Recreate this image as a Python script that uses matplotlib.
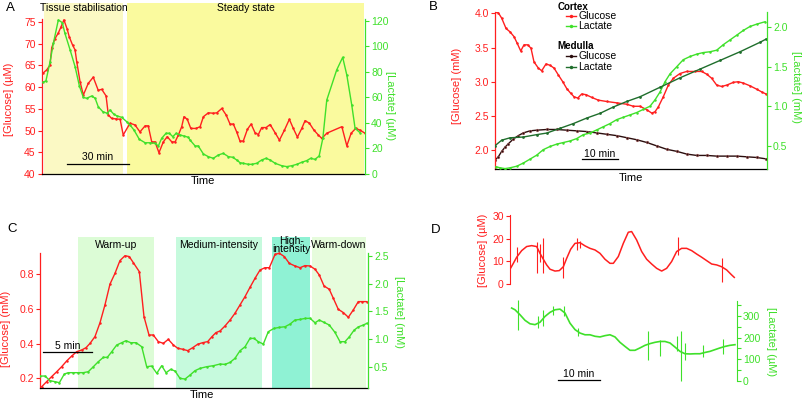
import matplotlib
matplotlib.use('Agg')
import matplotlib.pyplot as plt
from matplotlib.transforms import blended_transform_factory
from matplotlib.lines import Line2D
import matplotlib.ticker as mticker

plt.rcParams['font.family'] = ['Liberation Sans', 'DejaVu Sans']
plt.rcParams['font.size'] = 7

# ---------------- DATA ----------------
# Panel A (time in min)
a_glu_t = [0.6, 2.3, 3.9, 4.7, 6.3, 7.9, 9.2, 10.6, 12.1, 13.2, 14.8, 16.0, 16.8, 18.4, 20.0, 22.4, 24.8, 27.2,
           28.9, 31.0, 32.1, 33.7, 35.8, 37.8, 39.3, 42.6, 45.0, 47.4, 49.9, 51.4, 53.1, 54.7, 56.6, 58.7, 60.6,
           62.8, 64.4, 66.0, 67.6, 68.7, 70.3, 72.0, 74.5, 76.5, 78.1, 80.5, 82.9, 84.6, 87.0, 89.1, 91.0, 92.6,
           94.2, 95.8, 97.4, 99.4, 101.2, 103.1, 104.7, 106.3, 108.4, 110.4, 112.8, 114.9, 117.3, 119.7, 121.6,
           123.6, 125.7, 127.3, 129.4, 131.6, 133.7, 135.4, 137.8, 145.1, 147.5, 149.6, 151.8, 153.9, 156.3]
a_glu = [63.3, 64.0, 65.1, 69.1, 71.2, 72.5, 73.9, 75.5, 73.5, 71.6, 69.7, 68.6, 65.9, 61.3, 58.2, 60.9, 62.3, 59.3,
         59.5, 58.0, 53.6, 52.8, 52.7, 52.6, 49.0, 51.7, 51.3, 49.7, 51.1, 51.1, 47.4, 47.4, 44.9, 47.4, 48.6,
         47.4, 47.4, 49.0, 50.9, 53.2, 52.6, 50.5, 50.5, 50.9, 53.2, 54.1, 54.0, 54.1, 55.1, 53.6, 51.5, 51.5,
         49.7, 47.6, 47.6, 50.3, 51.5, 49.5, 49.1, 50.7, 50.7, 51.4, 49.5, 47.8, 50.1, 52.6, 50.5,
         48.5, 50.5, 52.3, 51.7, 50.1, 49.0, 48.2, 49.4, 50.9, 46.5, 49.4, 50.5, 50.1, 49.4]
a_lac_t = [0.5, 1.9, 3.9, 5.5, 7.9, 9.8, 11.1, 13.6, 16.0, 18.1, 20.0, 21.6, 24.1, 25.7, 27.2, 29.4, 31.6, 32.9,
           34.8, 36.4, 38.6, 41.0, 42.6, 44.5, 47.1, 49.9, 52.3, 54.7, 56.3, 57.9, 60.0, 61.6, 63.3, 64.9, 66.8,
           68.7, 70.8, 71.6, 74.1, 75.6, 78.1, 80.5, 82.9, 85.3, 87.7, 90.2, 92.3, 94.2, 95.8, 97.4, 99.8, 101.5,
           103.9, 106.3, 108.4, 110.4, 112.8, 116.0, 118.4, 120.9, 123.3, 125.7, 128.1, 130.0, 132.1, 134.1,
           135.9, 137.8, 142.6, 145.5, 147.5, 149.9, 151.5, 153.9]
a_lac = [72, 73, 88, 102.5, 120.8, 118.7, 110.3, 97.3, 84.2, 69, 60.1, 59.4, 61.2, 59.4, 52.8, 48.9, 47.6, 50.2,
         46.8, 45.5, 44.4, 41, 38.4, 34.5, 27.2, 24.5, 24.5, 24.1, 22, 28, 31.9, 31.9, 29.3, 31.9, 30.6,
         29.8, 28.8, 26.7, 22, 22, 15.7, 13.6, 12.3, 14.9, 16.2, 13.6, 13.1, 11, 8.9, 8.4, 7.6, 7.6,
         8.4, 11, 12.3, 11, 8.4, 6.5, 5.8, 6.5, 7.6, 9.2, 10.5, 12.3, 11.5, 14.1,
         28, 58, 81.6, 91.5, 77.6, 54, 35.8, 32.4]
a_phases = ["Tissue stabilisation", "Steady state"]
a_phase_start = [1.0, 41.1]
a_phase_end = [39.2, 155.8]

# Panel B (time in min)
b_cg_t = [0, 0.92, 1.86, 3.06, 4.17, 5.28, 6.19, 7.14, 8.06, 9.08, 10.0, 10.83, 12.03, 12.97, 14.17, 15.28, 16.39,
          17.58, 18.81, 19.92, 21.03, 21.94, 22.97, 24.08, 25.28, 26.86, 28.69, 31.03, 33.81, 36.58, 38.42, 40.28,
          42.14, 43.53, 44.44, 45.36, 46.75, 48.14, 49.53, 51.39, 53.25, 55.56, 57.42, 58.81, 60.19, 61.58, 62.97,
          64.36, 66.19, 67.58, 68.97, 70.83, 72.69, 74.08, 75.28]
b_cg = [4.025, 4.01, 3.93, 3.78, 3.73, 3.66, 3.56, 3.45, 3.54, 3.54, 3.49, 3.29, 3.2, 3.16, 3.26, 3.24, 3.2, 3.1,
        3.0, 2.9, 2.83, 2.78, 2.76, 2.82, 2.81, 2.77, 2.73, 2.71, 2.69, 2.67, 2.64, 2.64, 2.59, 2.54, 2.56, 2.63,
        2.78, 2.95, 3.05, 3.12, 3.15, 3.15, 3.15, 3.11, 3.05, 2.95, 2.93, 2.95, 2.99, 3.0, 2.98, 2.94, 2.89, 2.85,
        2.82]
b_cl_t = [0.28, 1.39, 2.78, 4.17, 6.03, 7.86, 9.72, 11.58, 13.42, 15.28, 17.14, 18.97, 20.83, 22.69, 24.53, 26.39,
          28.25, 30.08, 31.94, 33.81, 35.64, 37.5, 39.36, 41.19, 43.06, 44.44, 45.83, 47.22, 48.61, 50.47, 52.31,
          54.17, 56.03, 57.86, 59.72, 61.58, 63.42, 65.28, 67.14, 68.97, 70.83, 72.69, 75.0]
b_cl = [0.234, 0.22, 0.21, 0.22, 0.24, 0.28, 0.33, 0.38, 0.45, 0.49, 0.52, 0.54, 0.56, 0.59, 0.64, 0.66, 0.70,
        0.74, 0.78, 0.83, 0.86, 0.89, 0.92, 0.96, 1.0, 1.08, 1.18, 1.31, 1.41, 1.5, 1.59, 1.63, 1.66, 1.68, 1.69,
        1.71, 1.78, 1.84, 1.9, 1.96, 2.01, 2.04, 2.07]
b_mg_t = [0, 0.92, 1.86, 2.78, 3.69, 5.08, 6.47, 7.86, 9.72, 11.58, 14.36, 17.14, 19.92, 22.69, 25.47, 28.25,
          31.03, 33.81, 36.58, 39.36, 42.14, 44.92, 47.69, 50.47, 53.25, 56.03, 58.81, 61.58, 64.36, 67.14, 69.92,
          72.69, 75.28]
b_mg = [1.85, 1.90, 1.98, 2.04, 2.09, 2.16, 2.21, 2.25, 2.28, 2.29, 2.3, 2.3, 2.29, 2.28, 2.27, 2.25, 2.23,
        2.21, 2.18, 2.15, 2.11, 2.06, 2.01, 1.98, 1.94, 1.92, 1.92, 1.91, 1.91, 1.91, 1.90, 1.89, 1.87]
b_ml_t = [0, 1.86, 4.17, 7.86, 11.58, 14.36, 18.06, 21.75, 25.47, 29.17, 32.86, 36.58, 40.28, 45.83, 51.39,
          56.94, 62.5, 68.06, 73.61, 75.28]
b_ml = [0.5, 0.57, 0.6, 0.61, 0.64, 0.66, 0.72, 0.78, 0.85, 0.91, 0.99, 1.06, 1.12, 1.24, 1.36, 1.47, 1.58,
        1.69, 1.81, 1.85]

# Panel C (time in min)
c_glu_t = [0.18, 0.69, 1.21, 1.73, 2.24, 2.76, 3.27, 3.79, 4.31, 4.75, 5.17, 5.68, 6.20, 6.71, 7.23, 7.75, 8.26,
           8.78, 9.22, 9.64, 10.26, 10.74, 11.26, 11.70, 12.22, 12.74, 13.25, 13.77, 14.22, 14.74, 15.26, 15.77,
           16.29, 16.81, 17.32, 17.77, 18.18, 18.59, 19.11, 19.63, 20.14, 20.66, 21.18, 21.69, 22.21, 22.73,
           23.24, 23.69, 24.28, 24.72, 25.24, 25.75, 26.34, 26.86, 27.37, 27.89, 28.41, 28.85, 29.34, 29.88,
           30.30, 30.81, 31.33, 31.85, 32.36, 32.88, 33.23, 33.75]
c_glu = [0.152, 0.181, 0.21, 0.238, 0.267, 0.3, 0.328, 0.353, 0.363, 0.376, 0.401, 0.44, 0.52, 0.622, 0.742,
         0.804, 0.877, 0.905, 0.9, 0.865, 0.813, 0.555, 0.449, 0.449, 0.411, 0.401, 0.424, 0.392, 0.373, 0.367,
         0.359, 0.376, 0.396, 0.405, 0.411, 0.44, 0.463, 0.472, 0.501, 0.535, 0.574, 0.622, 0.67, 0.723, 0.775,
         0.823, 0.836, 0.836, 0.913, 0.919, 0.9, 0.861, 0.846, 0.836, 0.848, 0.846, 0.827, 0.794, 0.731, 0.712,
         0.66, 0.597, 0.578, 0.551, 0.593, 0.641, 0.641, 0.641]
c_lac_t = [0, 0.52, 1.03, 1.55, 2.0, 2.51, 2.92, 3.44, 3.96, 4.47, 4.99, 5.51, 6.02, 6.54, 6.95, 7.41, 7.92,
           8.44, 8.88, 9.37, 9.92, 10.51, 11.02, 11.54, 12.06, 12.57, 13.02, 13.50, 13.95, 14.46, 14.98, 15.50,
           16.01, 16.53, 17.22, 17.90, 18.59, 19.11, 19.63, 20.14, 20.66, 21.18, 21.69, 22.11, 22.55, 23.07,
           23.58, 24.17, 24.72, 25.31, 25.83, 26.34, 26.86, 27.37, 27.89, 28.41, 28.85, 29.34, 29.88, 30.47,
           30.99, 31.50, 31.95, 32.44, 32.88, 33.40, 33.75]
c_lac = [0.331, 0.331, 0.247, 0.229, 0.211, 0.367, 0.392, 0.392, 0.392, 0.392, 0.41, 0.5, 0.59, 0.669, 0.669,
         0.771, 0.892, 0.934, 0.97, 0.934, 0.934, 0.861, 0.5, 0.512, 0.38, 0.518, 0.392, 0.452, 0.422, 0.289,
         0.277, 0.349, 0.428, 0.47, 0.5, 0.518, 0.548, 0.542, 0.578, 0.651, 0.789, 0.861, 1.012, 1.012, 0.952,
         0.91, 1.133, 1.193, 1.211, 1.223, 1.271, 1.344, 1.355, 1.373, 1.375, 1.295, 1.344, 1.301, 1.254, 1.12,
         0.952, 0.952, 1.04, 1.16, 1.22, 1.254, 1.283]
c_phases = ["Warm-up", "Medium-intensity", "High-\nintensity", "Warm-down"]
c_phase_start = [3.89, 14.02, 24.0, 28.07]
c_phase_end = [11.78, 22.90, 27.89, 33.65]
c_phase_colors = ['#dcfcd6', '#c6fadd', '#8ff2d4', '#e6fcdc']

# Panel D (time in min)
d_glu_t = [0, 0.79, 1.58, 2.76, 3.94, 5.12, 6.30, 7.09, 7.88, 8.67, 9.46, 10.64, 11.66, 12.61, 13.40, 14.34,
           15.37, 16.55, 17.73, 18.91, 20.09, 21.28, 22.46, 23.64, 24.43, 25.61, 26.79, 27.97, 28.76, 29.94,
           31.13, 32.31, 33.49, 34.67, 35.86, 37.04, 38.22, 39.40, 40.58, 41.77, 42.95, 44.13, 45.31, 46.49,
           47.68, 48.86, 50.04, 51.22, 52.40, 53.03]
d_glu = [6.5, 9.1, 11.8, 14.7, 16.5, 16.9, 16.5, 13.5, 10.9, 8.4, 6.5, 5.7, 5.9, 7.6, 11.3, 15.3, 17.9, 18.2,
         16.8, 15.7, 15.0, 13.5, 10.9, 9.1, 9.1, 12.1, 17.9, 22.8, 23.1, 19.4, 14.3, 10.9, 8.8, 6.9, 5.7, 6.9,
         9.9, 14.3, 15.7, 15.7, 14.7, 13.2, 11.8, 10.3, 8.8, 8.4, 7.6, 6.2, 4.0, 2.9]
d_glu_spike_t = [1.73, 6.30, 7.09, 7.72, 12.61, 15.76, 16.55, 39.79, 50.04]
d_glu_spike_lo = [9.9, 5.0, 9.9, 5.0, 2.5, 15.0, 16.0, 12.8, 1.0]
d_glu_spike_hi = [16.2, 18.7, 17.5, 20.1, 12.1, 20.1, 19.0, 20.6, 11.3]
d_lac_t = [0.39, 1.18, 2.36, 3.55, 4.73, 5.91, 7.09, 8.27, 9.46, 10.64, 11.82, 13.00, 14.18, 15.37, 16.55, 17.73,
           18.91, 20.09, 21.28, 22.46, 23.64, 24.82, 26.00, 27.19, 28.37, 29.55, 30.73, 31.91, 33.10, 34.28,
           35.46, 36.64, 37.83, 39.01, 40.19, 41.37, 42.55, 43.74, 44.92, 46.10, 47.28, 48.46, 49.65, 50.83,
           52.01, 53.19]
d_lac = [337, 329, 306, 280, 264, 260, 271, 298, 317, 329, 332, 314, 267, 237, 221, 213, 213, 206, 203, 209,
         213, 203, 178, 159, 141, 141, 152, 164, 172, 178, 182, 182, 175, 156, 136, 125, 124, 125, 125, 131,
         136, 144, 152, 159, 164, 167]
d_lac_spike_t = [1.97, 6.54, 7.88, 10.09, 12.84, 16.0, 32.70, 35.46, 39.40, 40.43, 41.37, 45.55, 50.28]
d_lac_spike_lo = [233, 244, 252, 306, 298, 206, 94, 113, 136, 0, 97, 108, 125]
d_lac_spike_hi = [376, 298, 329, 345, 345, 244, 229, 190, 206, 229, 175, 167, 193]

# ---------------- STYLE ----------------
RED = '#ff1f1f'
GREEN = '#3fe02a'
DKGREEN = '#1f6e2c'
DARK = '#2a0d0d'
W, H = 803, 400
fig = plt.figure(figsize=(W / 100, H / 100), dpi=100)


def rect(l, t, r, b):
    return [l / W, 1 - b / H, (r - l) / W, (b - t) / H]


def ftext(x, y, s, **kw):
    fig.text(x / W, 1 - y / H, s, **kw)


def style_pair(ax, ax2, lbounds, rbounds, bottom=True):
    for s in ['top', 'right']:
        ax.spines[s].set_visible(False)
    for s in ['top', 'left', 'bottom']:
        ax2.spines[s].set_visible(False)
    ax.spines['bottom'].set_visible(bottom)
    ax.spines['bottom'].set_color('black')
    ax.spines['left'].set_color(RED)
    ax2.spines['right'].set_color(GREEN)
    ax.spines['left'].set_bounds(*lbounds)
    ax2.spines['right'].set_bounds(*rbounds)
    for sp in [ax.spines['left'], ax2.spines['right'], ax.spines['bottom']]:
        sp.set_linewidth(0.9)
    ax.set_xticks([])
    ax2.set_xticks([])
    ax.tick_params(axis='y', colors=RED, direction='out', length=3, width=0.8, pad=1.5, labelsize=7.5)
    ax2.tick_params(axis='y', colors=GREEN, direction='out', length=3, width=0.8, pad=1.5, labelsize=7.5)
    ax.patch.set_visible(False)


def scalebar(ax, t0, t1, yfrac, label, tyfrac):
    tr = blended_transform_factory(ax.transData, ax.transAxes)
    ax.plot([t0, t1], [yfrac, yfrac], color='black', lw=0.9, transform=tr, clip_on=False)
    ax.text((t0 + t1) / 2, tyfrac, label, transform=tr, ha='center', va='center', fontsize=7.5)


mk = dict(marker='o', markersize=1.8, markeredgewidth=0)

# ---------------- PANEL A ----------------
axA = fig.add_axes(rect(42, 3, 365, 174))
axA2 = axA.twinx()
axA.set_xlim(0, 156.3)
axA.set_ylim(40, 79.4)
axA2.set_ylim(0, 134.1)
axA.set_zorder(1)
axA2.set_zorder(2)
trA = blended_transform_factory(axA.transData, axA.transAxes)
for s, e, c in zip(a_phase_start, a_phase_end, ['#fbf9c4', '#fafa9e']):
    axA.axvspan(s, e, color=c, lw=0, zorder=0)
for s, e, name in zip(a_phase_start, a_phase_end, a_phases):
    axA.text((s + e) / 2, 0.97, name, transform=trA, ha='center', va='center', fontsize=7.5)
axA2.plot(a_lac_t, a_lac, color=GREEN, lw=1.0, **mk)
axA.plot(a_glu_t, a_glu, color=RED, lw=1.0, **mk)
axA.set_yticks([40, 45, 50, 55, 60, 65, 70, 75])
axA2.set_yticks([0, 20, 40, 60, 80, 100, 120])
style_pair(axA, axA2, (40, 75.7), (0, 121.6))
scalebar(axA, 12.1, 42.1, 0.0585, '30 min', 0.1)
ftext(203, 181, 'Time', ha='center', va='center', fontsize=8)
ftext(9, 99, '[Glucose] (µM)', rotation=90, ha='center', va='center', color=RED, fontsize=8)
ftext(390, 106, '[Lactate] (µM)', rotation=270, ha='center', va='center', color=GREEN, fontsize=8)
ftext(10, 8, 'A', ha='center', va='center', fontsize=9.5)

# ---------------- PANEL B ----------------
axB = fig.add_axes(rect(495, 11.5, 766.7, 169.3))
axB2 = axB.twinx()
axB.set_xlim(0, 75.47)
axB.set_ylim(1.717, 4.028)
axB2.set_ylim(0.201, 2.2)
axB.plot(b_cg_t, b_cg, color=RED, lw=1.0, **mk)
axB.plot(b_mg_t, b_mg, color=DARK, lw=1.0, marker='o', markersize=2, markeredgewidth=0.3,
         markeredgecolor='#d08080')
axB2.plot(b_cl_t, b_cl, color=GREEN, lw=1.0, **mk)
axB2.plot(b_ml_t, b_ml, color=DKGREEN, lw=1.0, marker='o', markersize=2, markeredgewidth=0)
axB.set_yticks([2.0, 2.5, 3.0, 3.5, 4.0])
axB.yaxis.set_major_formatter(mticker.FormatStrFormatter('%.1f'))
axB2.set_yticks([0.5, 1.0, 1.5, 2.0])
axB2.yaxis.set_major_formatter(mticker.FormatStrFormatter('%.1f'))
style_pair(axB, axB2, (1.717, 4.028), (0.201, 2.2))
scalebar(axB, 24.08, 34.08, 0.0634, '10 min', 0.097)
ftext(631, 178, 'Time', ha='center', va='center', fontsize=8)
ftext(457, 86, '[Glucose] (mM)', rotation=90, ha='center', va='center', color=RED, fontsize=8)
ftext(796, 87, '[Lactate] (mM)', rotation=270, ha='center', va='center', color=GREEN, fontsize=8)
ftext(433, 7, 'B', ha='center', va='center', fontsize=9.5)
# legend
ftext(557.7, 6.7, 'Cortex', ha='left', va='center', fontsize=7, fontweight='bold')
ftext(557.7, 46.3, 'Medulla', ha='left', va='center', fontsize=7, fontweight='bold')
for yy, col, lab in [(16, RED, 'Glucose'), (26.3, GREEN, 'Lactate'),
                     (56.3, DARK, 'Glucose'), (66.7, DKGREEN, 'Lactate')]:
    fig.add_artist(Line2D([565.7 / W, 576 / W], [1 - yy / H, 1 - yy / H], color=col, lw=1.0,
                          transform=fig.transFigure))
    fig.add_artist(Line2D([570.8 / W], [1 - yy / H], color=col, marker='o', markersize=2.5,
                          markeredgewidth=0, transform=fig.transFigure))
    ftext(578.5, yy, lab, ha='left', va='center', fontsize=7.5)

# ---------------- PANEL C ----------------
axC = fig.add_axes(rect(40, 236.7, 367.7, 388.3))
axC2 = axC.twinx()
axC.set_xlim(0, 33.85)
axC.set_ylim(0.1425, 1.0143)
axC2.set_ylim(0.1094, 2.851)
axC.set_zorder(1)
axC2.set_zorder(2)
trC = blended_transform_factory(axC.transData, axC.transAxes)
for s, e, c in zip(c_phase_start, c_phase_end, c_phase_colors):
    axC.axvspan(s, e, color=c, lw=0, zorder=0)
for s, e, name in zip(c_phase_start, c_phase_end, c_phases):
    axC.text((s + e) / 2, 0.945, name, transform=trC, ha='center', va='center', fontsize=7.5,
             linespacing=0.85)
axC.plot(c_glu_t, c_glu, color=RED, lw=1.0, **mk)
axC2.plot(c_lac_t, c_lac, color=GREEN, lw=1.0, **mk)
axC.set_yticks([0.2, 0.4, 0.6, 0.8])
axC.yaxis.set_major_formatter(mticker.FormatStrFormatter('%.1f'))
axC2.set_yticks([0.5, 1.0, 1.5, 2.0, 2.5])
axC2.yaxis.set_major_formatter(mticker.FormatStrFormatter('%.1f'))
style_pair(axC, axC2, (0.1425, 0.92), (0.1094, 2.55))
scalebar(axC, 0.34, 5.34, 0.2414, '5 min', 0.281)
ftext(201.7, 395, 'Time', ha='center', va='center', fontsize=8)
ftext(6, 329, '[Glucose] (mM)', rotation=90, ha='center', va='center', color=RED, fontsize=8)
ftext(399, 312, '[Lactate] (mM)', rotation=270, ha='center', va='center', color=GREEN, fontsize=8)
ftext(11.7, 229.3, 'C', ha='center', va='center', fontsize=9.5)

# ---------------- PANEL D ----------------
axDg = fig.add_axes(rect(510, 210, 736.7, 290))
axDl = fig.add_axes(rect(510, 298, 736.7, 383))
for ax in (axDg, axDl):
    ax.set_xlim(0, 53.6)
    ax.patch.set_visible(False)
    ax.set_xticks([])
    for s in ['top', 'bottom']:
        ax.spines[s].set_visible(False)
axDg.spines['right'].set_visible(False)
axDl.spines['left'].set_visible(False)
axDg.set_ylim(-2.65, 32.6)
axDl.set_ylim(-10.7, 383.6)
axDg.plot(d_glu_t, d_glu, color=RED, lw=1.1)
axDg.vlines(d_glu_spike_t, d_glu_spike_lo, d_glu_spike_hi, color=RED, lw=0.8)
axDl.plot(d_lac_t, d_lac, color=GREEN, lw=1.2)
axDl.vlines(d_lac_spike_t, d_lac_spike_lo, d_lac_spike_hi, color=GREEN, lw=0.8)
axDg.spines['left'].set_color(RED)
axDg.spines['left'].set_bounds(0, 30.5)
axDg.set_yticks([0, 10, 20, 30])
axDg.tick_params(axis='y', colors=RED, direction='out', length=3, width=0.8, pad=1.5, labelsize=7.5)
axDl.yaxis.tick_right()
axDl.spines['right'].set_color(GREEN)
axDl.spines['right'].set_bounds(0, 371)
axDl.set_yticks([0, 100, 200, 300])
axDl.set_yticks([50, 150, 250, 350], minor=True)
axDl.tick_params(axis='y', which='both', colors=GREEN, direction='out', length=3, width=0.8, pad=1.5,
                 labelsize=7.5)
scalebar(axDl, 11.28, 21.28, 0.035, '10 min', 0.106)
ftext(482.7, 250, '[Glucose] (µM)', rotation=90, ha='center', va='center', color=RED, fontsize=8)
ftext(770.7, 341.7, '[Lactate] (µM)', rotation=270, ha='center', va='center', color=GREEN, fontsize=8)
ftext(436, 230, 'D', ha='center', va='center', fontsize=9.5)

fig.savefig('out.png', dpi=100)
